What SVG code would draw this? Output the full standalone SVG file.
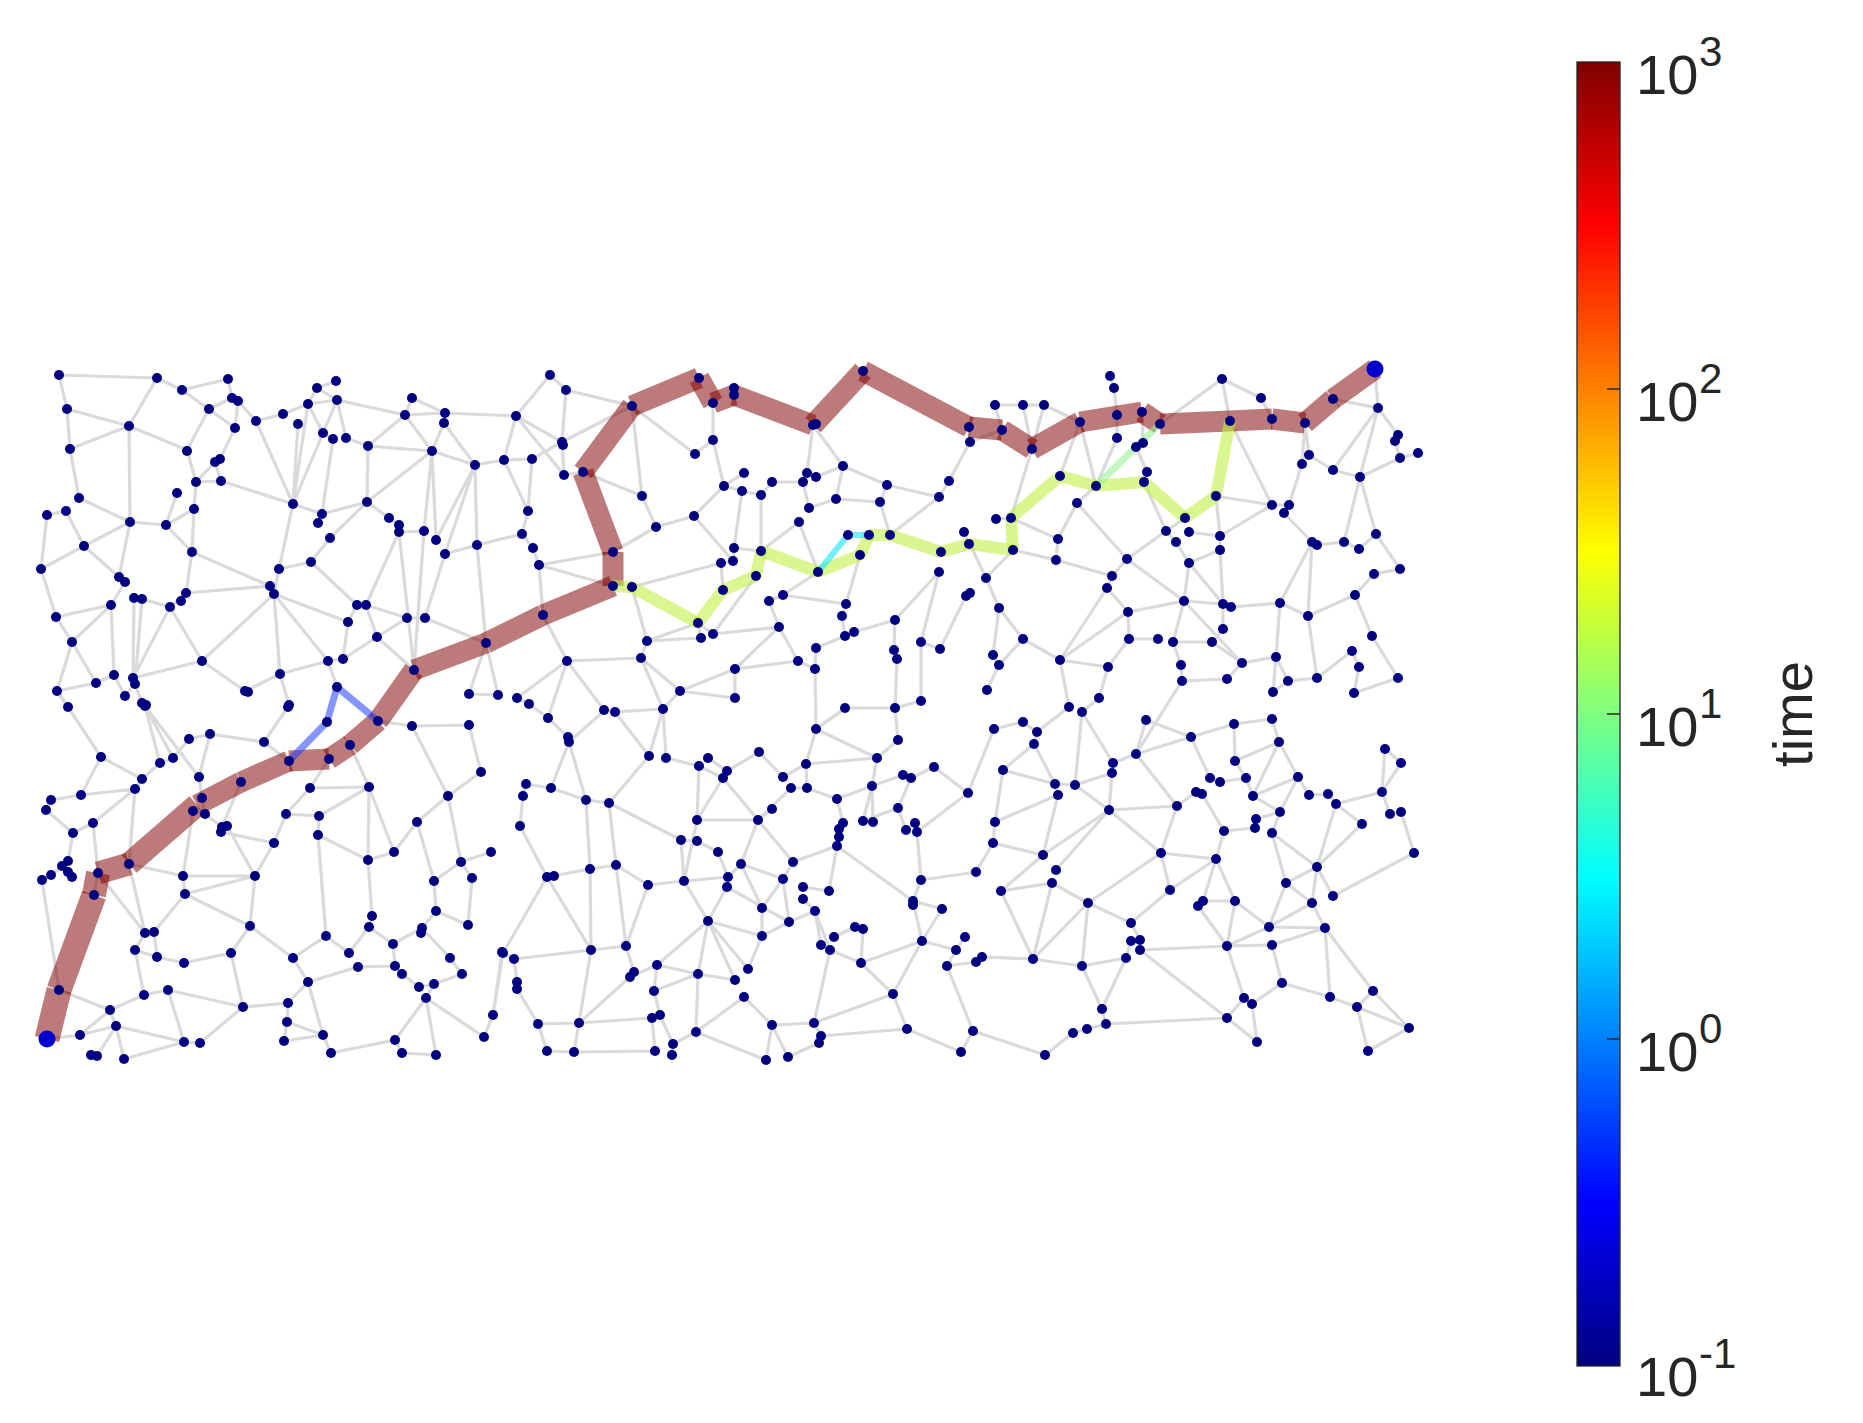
<svg xmlns="http://www.w3.org/2000/svg" width="1863" height="1423" viewBox="0 0 1863 1423">
<style>
.edges{fill:none;stroke:#dadada;stroke-width:3.2}
.hl line{stroke-linecap:butt;fill:none}
.main{stroke:#800000;stroke-opacity:0.52;stroke-width:21}
.yel{stroke:#c0f040;stroke-opacity:0.58;stroke-width:12}
.grn{stroke:#90f090;stroke-opacity:0.55;stroke-width:7}
.cya{stroke:#00e0ff;stroke-opacity:0.55;stroke-width:6}
.blu{stroke:#2040ff;stroke-opacity:0.55;stroke-width:7}
.nodes circle{fill:#000080;r:5px}
.end circle{fill:#0000cd}
text{font-family:"Liberation Sans",Arial,sans-serif;fill:#262626}
.tl{font-size:56px}
.sup{font-size:42px}
</style>
<defs>
<linearGradient id="jet" x1="0" y1="1" x2="0" y2="0">
<stop offset="0" stop-color="#000080"/>
<stop offset="0.125" stop-color="#0000ff"/>
<stop offset="0.375" stop-color="#00ffff"/>
<stop offset="0.625" stop-color="#ffff00"/>
<stop offset="0.875" stop-color="#ff0000"/>
<stop offset="1" stop-color="#800000"/>
</linearGradient>
</defs>
<rect width="1863" height="1423" fill="#ffffff"/>
<g id="connectors">
<path class="edges" d="M59 375L157 378M59 375L67 409M157 378L129 426M157 378L182 390M182 390L228 379M182 390L235 428M228 379L232 398M232 398L209 409M238 401L235 428M238 401L256 421M209 409L187 450M235 428L220 459M256 421L283 414M283 414L308 404M308 404L317 388M317 388L336 381M317 388L337 400M308 404L337 400M308 404L323 433M298 424L293 504M308 404L293 504M337 400L293 504M337 400L346 438M337 400L405 415M333 439L322 514M323 433L333 439M256 421L293 504M346 438L368 446M368 446L367 502M368 446L432 451M405 415L368 446M405 415L412 398M412 398L445 413M405 415L445 413M445 413L516 416M405 415L432 451M444 423L432 451M444 423L475 465M432 451L475 465M475 465L504 460M432 451L367 502M432 451L424 531M432 451L436 540M475 465L436 540M475 465L445 554M475 465L477 545M67 409L129 426M67 409L70 449M129 426L70 449M129 426L187 450M129 426L130 522M70 449L79 498M187 450L196 482M196 482L221 481M196 482L215 462M215 462L221 481M196 482L194 509M177 493L166 525M194 509L166 525M194 509L192 552M221 481L293 504M79 498L130 522M66 511L84 546M47 515L41 569M47 515L66 511M41 569L84 546M84 546L130 522M130 522L166 525M130 522L119 577M84 546L119 577M166 525L192 552M192 552L186 593M192 552L270 586M293 504L322 514M293 504L279 569M322 514L367 502M367 502L330 538M367 502L389 518M330 538L311 562M279 569L311 562M279 569L274 594M311 562L357 605M389 518L399 525M399 532L424 531M399 532L366 605M399 532L414 670M424 531L414 670M445 554L477 545M445 554L425 618M477 545L486 643M477 545L522 534M41 569L56 617M56 617L72 642M56 617L111 605M72 642L111 605M72 642L57 691M72 642L96 683M111 605L114 675M111 605L125 582M119 577L125 582M134 598L133 678M142 599L135 684M142 599L170 607M170 607L133 678M170 607L186 593M170 607L202 661M186 593L270 586M270 586L274 594M274 594L202 661M274 594L280 674M274 594L328 661M274 594L348 622M348 622L357 605M348 622L343 659M366 605L377 637M366 605L407 618M357 605L366 605M377 637L407 618M377 637L343 659M377 637L414 670M407 618L425 618M425 618L486 643M486 643L469 694M486 643L498 695M469 694L498 695M202 661L133 678M202 661L245 691M245 691L280 674M280 674L328 661M328 661L343 659M328 661L337 687M280 674L289 705M114 675L96 683M96 683L57 691M133 678L135 684M135 684L125 696M135 684L142 703M57 691L68 707M68 707L101 757M114 675L125 696
M550 375L566 390M550 375L516 416M566 390L632 406M566 390L562 442M516 416L562 442M516 416L564 475M516 416L504 460M562 442L532 459M562 442L564 475M562 442L632 406M532 459L504 460M532 459L528 511M504 460L528 511M564 475L583 472M583 472L642 496M528 511L522 534M522 534L533 548M533 548L539 565M539 565L613 552M539 565L543 615M539 565L613 586M632 406L642 496M632 406L695 454M642 496L656 527M656 527L694 516M656 527L613 552M695 454L713 440M713 403L713 440M713 440L724 486M694 516L733 561M694 516L724 486M724 486L744 473M724 486L742 491M742 491L734 548M761 495L761 551M761 495L742 491M761 495L772 482M772 482L803 482M807 473L813 425M807 473L816 477M816 477L843 466M843 466L813 425M843 466L836 499M843 466L887 485M836 499L880 502M809 508L803 482M809 508L836 499M799 522L818 572M799 522L761 551M880 502L887 485M880 502L890 535M887 485L939 497M939 497L949 481M949 481L970 442M969 427L970 442M939 497L890 535M964 532L969 544M734 548L733 561M734 548L761 551M721 563L723 590M721 563L632 587M721 563L733 561M698 623L713 634M698 623L701 638M713 634L756 576M713 634L779 627M701 638L647 641M647 641L632 587M647 641L641 658M647 641L698 623M641 658L680 691M641 658L663 709M567 661L543 615M567 661L641 658M567 661L517 698M567 661L604 710M567 661L548 718M735 669L779 627M735 669L735 698M735 669L680 691M735 669L798 661M680 691L663 709M680 691L735 698M798 661L779 627M798 661L815 669M816 648L815 669M816 648L845 636M815 669L816 729M783 595L818 572M783 595L769 601M783 595L846 604M769 601L779 627M846 604L842 616M842 616L845 636M845 636L854 632M854 632L895 620M895 620L939 572M895 620L894 650M894 650L897 659M897 659L895 708M921 642L939 572M921 642L940 649M921 642L921 701M940 649L966 596M966 596L970 594M845 708L895 708M895 708L921 701M860 555L846 604M734 388L734 395M529 704L548 718M517 698L529 704M604 710L615 712M895 708L898 740M845 708L816 729
M1110 376L1114 388M1114 388L1117 415M1222 379L1261 398M1222 379L1160 424M1222 379L1230 421M1261 398L1272 419M995 405L1023 405M1023 405L1044 405M995 405L1002 430M1023 405L1032 449M1044 405L1032 449M1044 405L1080 422M1080 422L1096 486M1080 422L1060 476M1117 438L1117 415M1117 438L1096 486M1142 412L1143 443M1136 447L1143 443M1136 447L1147 472M1147 472L1144 482M1144 482L1166 531M1166 531L1185 518M1230 421L1272 505M1216 496L1220 536M1216 496L1272 505M1166 531L1176 542M1189 532L1220 536M1220 536L1220 550M1220 536L1272 505M1220 550L1189 563M1189 563L1176 542M1189 563L1184 601M1189 563L1223 604M1220 550L1223 604M1127 559L1166 531M1127 559L1184 601M1127 559L1112 576M1077 503L1096 486M1077 503L1127 559M1077 503L1058 539M1058 539L1011 518M1058 539L1056 560M1013 550L1056 560M1013 550L986 578M1032 449L1011 518M1011 518L996 519M1056 560L1112 576M1112 576L1107 588M1107 588L1060 660M1107 588L1128 612M1128 612L1184 601M1128 612L1129 639M1128 612L1060 660M1129 639L1158 639M1129 639L1108 667M1173 642L1212 642M1173 642L1181 665M1184 601L1173 642M1184 601L1223 604M1223 604L1231 607M1231 607L1280 603M1223 604L1223 629M1223 629L1212 642M1184 601L1242 663M1280 603L1308 616M1280 603L1276 657M1308 616L1317 678M1308 616L1355 595M1308 616L1312 542M1312 542L1317 545M1317 545L1344 542M1344 542L1359 549M1359 549L1376 534M1376 534L1400 569M1400 569L1374 574M1374 574L1355 595M1355 595L1372 636M1372 636L1398 678M1352 651L1359 667M1352 651L1317 678M1359 667L1354 693M1398 678L1354 693M1317 678L1288 681M1288 681L1276 657M1288 681L1273 692M1276 657L1273 692M1242 663L1276 657M1242 663L1212 642M1227 679L1182 681M1227 679L1242 663M1181 665L1182 681M1060 660L1108 667M1060 660L1023 639M1060 660L1069 707M1108 667L1099 698M1099 698L1082 712M999 608L986 578M999 608L1023 639M999 608L993 655M993 655L999 665M999 665L987 690M1023 639L999 665M1400 458L1418 453M1400 458L1395 441M1398 435L1378 408M1378 408L1375 369M1378 408L1333 470M1378 408L1360 477M1333 399L1378 408M1360 477L1333 470M1360 477L1400 458M1360 477L1344 542M1360 477L1376 534M1309 455L1305 423M1305 423L1302 464M1309 455L1333 470M1302 464L1289 505M1289 505L1272 505M1284 513L1312 542M1312 542L1280 603M1002 430L970 442M970 544L986 578M1182 681L1136 754
M145 706L160 763M145 706L173 758M145 706L199 777M101 757L142 779M101 757L81 795M142 779L160 763M160 763L173 758M173 758L189 739M189 739L210 734M210 734L264 742M210 734L199 777M199 777L202 798M264 742L288 707M264 742L289 761M135 789L142 779M135 789L81 795M135 789L93 823M135 789L129 864M81 795L51 800M51 800L46 810M46 810L73 833M93 823L73 833M93 823L98 873M73 833L68 861M68 861L62 866M62 866L68 872M68 872L72 877M51 875L42 880M51 875L62 866M42 880L59 990M183 876L255 876M183 876L185 894M183 876L193 811M183 876L129 864M185 894L255 876M185 894L250 926M185 894L154 932M222 827L241 782M227 826L255 876M221 832L274 843M274 843L286 814M274 843L255 876M286 814L319 816M286 814L310 788M310 788L369 787M310 788L329 759M319 816L318 835M318 835L326 936M319 816L369 787M318 835L368 860M369 787L368 860M369 787L394 852M369 787L350 745M412 726L448 796M412 726L469 725M412 726L378 721M469 725L481 772M481 772L448 796M448 796L417 822M448 796L461 862M417 822L394 852M417 822L434 881M368 860L394 852M368 860L372 916M434 881L461 862M434 881L436 911M461 862L491 852M472 878L468 925M472 878L461 862M436 911L422 928M436 911L468 925M255 876L250 926M250 926L231 953M250 926L293 958M326 936L293 958M326 936L349 953M349 953L369 927M372 916L369 927M358 967L395 966M369 927L393 944M393 944L422 928M393 944L395 966M395 966L402 974M402 974L419 987M419 987L434 984M434 984L462 974M462 974L450 958M450 958L422 928M421 933L422 928M426 998L434 984M426 998L395 1040M426 998L436 1055M426 998L484 1037M484 1037L493 1015M436 1055L402 1053M395 1040L402 1053M493 1015L502 952M293 958L308 982M308 982L358 967M308 982L288 1003M308 982L323 1035M288 1003L287 1022M287 1022L284 1041M287 1022L323 1035M284 1041L323 1035M331 1053L395 1040M331 1053L323 1035M243 1007L288 1003M243 1007L231 953M243 1007L168 990M243 1007L200 1043M144 995L168 990M144 995L135 950M144 995L110 1010M157 957L184 963M157 957L135 950M184 963L231 953M145 933L154 932M154 932L157 957M135 950L145 933M168 990L184 1042M110 1010L80 1035M110 1010L116 1026M116 1026L80 1035M116 1026L97 1056M116 1026L124 1059M116 1026L184 1042M124 1059L184 1042M91 1055L97 1056M80 1035L47 1039M59 990L110 1010M129 864L145 933M98 873L145 933M94 895L98 873M202 798L205 814M193 811L205 814M205 814L222 827M222 827L227 826M221 832L227 826M184 1042L200 1043
M548 718L568 737M569 742L604 711M569 742L551 788M569 742L586 800M615 712L663 709M615 712L649 756M663 709L649 756M663 709L666 758M649 756L609 803M666 758L699 766M708 758L727 771M699 766L723 778M699 766L697 820M723 778L697 820M723 778L758 820M727 771L759 752M759 752L783 777M783 777L806 764M806 764L807 788M806 764L816 729M806 764L877 758M791 788L758 820M791 788L807 788M807 788L837 799M816 729L845 709M816 729L877 758M877 758L898 740M898 740L895 708M877 758L872 786M872 786L903 775M872 786L873 822M872 786L863 821M872 786L837 799M837 799L843 823M898 808L863 821M898 808L911 778M898 808L906 830M934 767L911 778M934 767L968 793M843 823L839 829M839 829L839 837M839 837L837 846M915 823L906 830M915 823L917 832M917 832L921 880M917 832L968 793M837 846L793 862M837 846L913 901M837 846L829 891M793 862L783 879M793 862L758 820M803 887L829 891M803 899L815 911M783 879L762 908M783 879L789 922M741 864L783 879M741 864L728 877M741 864L758 820M741 864L762 908M718 852L697 841M718 852L728 877M697 820L758 820M697 820L684 881M772 809L758 820M681 840L697 841M681 840L684 881M684 881L728 877M684 881L648 885M684 881L708 921M727 887L708 921M727 887L789 922M762 908L762 936M762 936L789 922M789 922L815 911M708 921L762 936M708 921L657 965M708 921L698 974M708 921L735 980M708 921L748 969M762 936L748 969M815 911L821 945M815 911L830 950M834 937L855 927M855 927L863 929M863 929L861 963M830 950L861 963M861 963L922 941M861 963L893 994M922 941L913 901M913 901L942 909M922 941L942 909M921 880L913 901M921 880L976 872M922 941L956 950M956 950L965 937M956 950L947 966M947 966L976 962M922 941L893 994M893 994L907 1029M893 994L814 1023M814 1023L772 1025M814 1023L830 950M814 1023L821 1036M821 1036L907 1029M821 1036L819 1043M819 1043L788 1057M772 1025L766 1060M772 1025L744 997M788 1057L772 1025M907 1029L961 1052M961 1052L973 1031M947 966L973 1031M744 997L696 1032M696 1032L698 974M696 1032L766 1060M696 1032L673 1044M698 974L657 965M698 974L735 980M657 965L654 991M654 991L698 974M654 991L660 1015M652 1018L655 1051M660 1015L673 1044M673 1044L672 1055M652 1018L579 1023M579 1023L538 1024M579 1023L574 1052M574 1052L655 1051M547 1051L574 1052M538 1024L547 1051M538 1024L517 989M579 1023L591 950M579 1023L630 977M591 950L626 946M591 950L514 959M591 950L590 869M591 950L547 877M626 946L634 972M626 946L616 865M630 977L657 965M590 869L616 865M590 869L586 800M590 869L547 877M609 803L616 865M609 803L586 800M609 803L681 840M648 885L616 865M648 885L626 946M547 877L520 826M547 877L503 953M547 877L554 876M520 826L523 796M523 796L526 784M526 784L551 788M551 788L586 800M514 959L517 982M517 982L517 989M503 953L514 959M493 1015L503 953
M994 729L1023 722M1023 722L1037 732M1037 732L1069 707M1034 744L1003 770M1034 744L1055 784M1082 712L1075 785M1082 712L1113 763M1146 720L1136 754M1146 720L1191 737M1136 754L1191 737M1136 754L1177 806M1113 763L1136 754M1112 773L1109 810M1112 773L1075 785M1075 785L1109 810M1055 784L1075 785M1055 784L1058 795M1058 795L995 822M1058 795L1043 855M1003 770L1055 784M1003 770L995 822M995 822L993 843M993 843L1043 855M993 843L976 872M1043 855L1109 810M1043 855L1001 891M1056 870L1109 810M1052 883L1001 891M1052 883L1088 903M1052 883L1033 959M1001 891L1033 959M1109 810L1177 806M1109 810L1161 853M1177 806L1161 853M1177 806L1196 792M1196 792L1202 794M1191 737L1234 724M1191 737L1210 778M1234 724L1272 719M1234 724L1235 761M1235 761L1279 742M1235 761L1246 778M1272 719L1279 742M1279 742L1298 777M1279 742L1253 796M1202 794L1224 831M1210 778L1220 782M1220 782L1246 778M1246 778L1253 796M1253 796L1298 777M1253 796L1280 812M1298 777L1280 812M1298 777L1309 795M1309 795L1328 794M1328 794L1336 804M1336 804L1382 792M1336 804L1362 824M1336 804L1317 867M1382 792L1385 749M1385 749L1401 763M1401 763L1382 792M1382 792L1390 814M1390 814L1401 812M1401 812L1414 853M1414 853L1333 896M1362 824L1317 867M1256 819L1255 828M1255 828L1224 831M1280 812L1256 819M1272 833L1280 812M1272 833L1317 867M1272 833L1286 883M1224 831L1216 859M1216 859L1161 853M1216 859L1170 890M1216 859L1203 901M1216 859L1235 901M1161 853L1170 890M1161 853L1088 903M1170 890L1131 923M1203 901L1235 901M1198 906L1227 946M1235 901L1227 946M1235 901L1269 927M1286 883L1317 867M1286 883L1312 903M1286 883L1269 927M1317 867L1312 903M1317 867L1333 896M1312 903L1325 928M1312 903L1269 927M1269 927L1325 928M1269 927L1227 946M1272 945L1325 928M1227 946L1272 945M1272 945L1282 983M1227 946L1244 998M1140 950L1227 946M1140 950L1227 1018M1131 923L1088 903M1131 941L1140 940M1131 923L1140 940M1126 958L1131 941M1126 958L1082 966M1126 958L1102 1009M1088 903L1082 966M1088 903L1033 959M1033 959L1082 966M1033 959L982 957M982 957L976 962M1102 1009L1082 966M1102 1009L1106 1024M1106 1024L1087 1029M1106 1024L1227 1018M1087 1029L1073 1033M1073 1033L1045 1055M1045 1055L973 1031M1227 1018L1244 998M1227 1018L1257 1042M1252 1004L1257 1042M1252 1004L1282 983M1282 983L1330 997M1330 997L1357 1007M1357 1007L1373 991M1357 1007L1368 1051M1357 1007L1409 1028M1368 1051L1409 1028M1373 991L1409 1028M1325 928L1330 997M1325 928L1373 991M1034 744L1037 732M968 793L994 729"/>
</g>
<g id="highlight" class="hl">
<g class="main">
<line x1="47" y1="1039" x2="59" y2="990" stroke-width="25"/>
<line x1="59" y1="990" x2="94" y2="895" stroke-width="25"/>
<line x1="94" y1="895" x2="98" y2="873" stroke-width="24"/>
<line x1="98" y1="873" x2="129" y2="864" stroke-width="23"/>
<line x1="129" y1="864" x2="197" y2="805" stroke-width="23"/>
<line x1="197" y1="805" x2="241" y2="782"/>
<line x1="241" y1="782" x2="289" y2="761"/>
<line x1="289" y1="761" x2="329" y2="759"/>
<line x1="329" y1="759" x2="350" y2="745"/>
<line x1="350" y1="745" x2="378" y2="721"/>
<line x1="378" y1="721" x2="414" y2="670"/>
<line x1="414" y1="670" x2="486" y2="643"/>
<line x1="486" y1="643" x2="543" y2="615"/>
<line x1="543" y1="615" x2="613" y2="586"/>
<line x1="613" y1="586" x2="613" y2="552"/>
<line x1="613" y1="552" x2="583" y2="472"/>
<line x1="583" y1="472" x2="632" y2="406"/>
<line x1="632" y1="406" x2="699" y2="378"/>
<line x1="699" y1="378" x2="713" y2="403"/>
<line x1="713" y1="403" x2="734" y2="395"/>
<line x1="734" y1="395" x2="813" y2="425"/>
<line x1="813" y1="425" x2="863" y2="371"/>
<line x1="863" y1="371" x2="969" y2="427"/>
<line x1="969" y1="427" x2="1002" y2="430"/>
<line x1="1002" y1="430" x2="1032" y2="449"/>
<line x1="1032" y1="449" x2="1080" y2="422"/>
<line x1="1080" y1="422" x2="1142" y2="412"/>
<line x1="1142" y1="412" x2="1160" y2="424"/>
<line x1="1160" y1="424" x2="1230" y2="421"/>
<line x1="1230" y1="421" x2="1272" y2="419"/>
<line x1="1272" y1="419" x2="1305" y2="423"/>
<line x1="1305" y1="423" x2="1333" y2="399"/>
<line x1="1333" y1="399" x2="1375" y2="369"/>
</g>
<g class="yel">
<line x1="613" y1="586" x2="632" y2="587"/>
<line x1="632" y1="587" x2="698" y2="623"/>
<line x1="698" y1="623" x2="723" y2="590"/>
<line x1="723" y1="590" x2="756" y2="576"/>
<line x1="756" y1="576" x2="761" y2="551"/>
<line x1="761" y1="551" x2="818" y2="572"/>
<line x1="818" y1="572" x2="860" y2="555"/>
<line x1="860" y1="555" x2="869" y2="535"/>
<line x1="869" y1="535" x2="890" y2="535"/>
<line x1="890" y1="535" x2="941" y2="552"/>
<line x1="941" y1="552" x2="969" y2="544"/>
<line x1="969" y1="544" x2="1013" y2="550"/>
<line x1="1013" y1="550" x2="1011" y2="518"/>
<line x1="1011" y1="518" x2="1060" y2="476"/>
<line x1="1060" y1="476" x2="1096" y2="486"/>
<line x1="1096" y1="486" x2="1144" y2="482"/>
<line x1="1144" y1="482" x2="1185" y2="518"/>
<line x1="1185" y1="518" x2="1216" y2="496"/>
<line x1="1216" y1="496" x2="1230" y2="421"/>
</g>
<g class="grn">
<line x1="1096" y1="486" x2="1136" y2="447"/>
<line x1="1136" y1="447" x2="1160" y2="424"/>
</g>
<g class="cya">
<line x1="818" y1="572" x2="848" y2="535"/>
<line x1="848" y1="535" x2="869" y2="535"/>
</g>
<g class="blu">
<line x1="289" y1="761" x2="327" y2="722"/>
<line x1="327" y1="722" x2="337" y2="687"/>
<line x1="337" y1="687" x2="378" y2="721"/>
</g>
</g>
<g id="nodes" class="nodes">
<g id="n1"><circle cx="59" cy="375" r="5"/></g><g id="n2"><circle cx="157" cy="378" r="5"/></g><g id="n3"><circle cx="182" cy="390" r="5"/></g><g id="n4"><circle cx="228" cy="379" r="5"/></g><g id="n5"><circle cx="232" cy="398" r="5"/></g><g id="n6"><circle cx="238" cy="401" r="5"/></g><g id="n7"><circle cx="209" cy="409" r="5"/></g><g id="n8"><circle cx="235" cy="428" r="5"/></g><g id="n9"><circle cx="256" cy="421" r="5"/></g><g id="n10"><circle cx="283" cy="414" r="5"/></g>
<g id="n11"><circle cx="298" cy="424" r="5"/></g><g id="n12"><circle cx="308" cy="404" r="5"/></g><g id="n13"><circle cx="317" cy="388" r="5"/></g><g id="n14"><circle cx="336" cy="381" r="5"/></g><g id="n15"><circle cx="337" cy="400" r="5"/></g><g id="n16"><circle cx="323" cy="433" r="5"/></g><g id="n17"><circle cx="333" cy="439" r="5"/></g><g id="n18"><circle cx="346" cy="438" r="5"/></g><g id="n19"><circle cx="368" cy="446" r="5"/></g><g id="n20"><circle cx="412" cy="398" r="5"/></g>
<g id="n21"><circle cx="405" cy="415" r="5"/></g><g id="n22"><circle cx="445" cy="413" r="5"/></g><g id="n23"><circle cx="444" cy="423" r="5"/></g><g id="n24"><circle cx="432" cy="451" r="5"/></g><g id="n25"><circle cx="475" cy="465" r="5"/></g><g id="n26"><circle cx="504" cy="460" r="5"/></g><g id="n27"><circle cx="67" cy="409" r="5"/></g><g id="n28"><circle cx="129" cy="426" r="5"/></g><g id="n29"><circle cx="70" cy="449" r="5"/></g><g id="n30"><circle cx="187" cy="451" r="5"/></g>
<g id="n31"><circle cx="215" cy="462" r="5"/></g><g id="n32"><circle cx="220" cy="459" r="5"/></g><g id="n33"><circle cx="196" cy="482" r="5"/></g><g id="n34"><circle cx="221" cy="481" r="5"/></g><g id="n35"><circle cx="79" cy="498" r="5"/></g><g id="n36"><circle cx="66" cy="511" r="5"/></g><g id="n37"><circle cx="47" cy="515" r="5"/></g><g id="n38"><circle cx="177" cy="493" r="5"/></g><g id="n39"><circle cx="194" cy="509" r="5"/></g><g id="n40"><circle cx="293" cy="504" r="5"/></g>
<g id="n41"><circle cx="322" cy="514" r="5"/></g><g id="n42"><circle cx="318" cy="523" r="5"/></g><g id="n43"><circle cx="367" cy="502" r="5"/></g><g id="n44"><circle cx="389" cy="518" r="5"/></g><g id="n45"><circle cx="399" cy="525" r="5"/></g><g id="n46"><circle cx="399" cy="532" r="5"/></g><g id="n47"><circle cx="424" cy="531" r="5"/></g><g id="n48"><circle cx="436" cy="540" r="5"/></g><g id="n49"><circle cx="445" cy="554" r="5"/></g><g id="n50"><circle cx="477" cy="545" r="5"/></g>
<g id="n51"><circle cx="330" cy="538" r="5"/></g><g id="n52"><circle cx="130" cy="522" r="5"/></g><g id="n53"><circle cx="166" cy="525" r="5"/></g><g id="n54"><circle cx="84" cy="546" r="5"/></g><g id="n55"><circle cx="41" cy="569" r="5"/></g><g id="n56"><circle cx="192" cy="552" r="5"/></g><g id="n57"><circle cx="279" cy="569" r="5"/></g><g id="n58"><circle cx="311" cy="562" r="5"/></g><g id="n59"><circle cx="119" cy="577" r="5"/></g><g id="n60"><circle cx="125" cy="582" r="5"/></g>
<g id="n61"><circle cx="270" cy="586" r="5"/></g><g id="n62"><circle cx="274" cy="594" r="5"/></g><g id="n63"><circle cx="186" cy="593" r="5"/></g><g id="n64"><circle cx="181" cy="601" r="5"/></g><g id="n65"><circle cx="134" cy="598" r="5"/></g><g id="n66"><circle cx="142" cy="599" r="5"/></g><g id="n67"><circle cx="111" cy="605" r="5"/></g><g id="n68"><circle cx="170" cy="607" r="5"/></g><g id="n69"><circle cx="56" cy="617" r="5"/></g><g id="n70"><circle cx="357" cy="605" r="5"/></g>
<g id="n71"><circle cx="366" cy="605" r="5"/></g><g id="n72"><circle cx="348" cy="622" r="5"/></g><g id="n73"><circle cx="377" cy="637" r="5"/></g><g id="n74"><circle cx="407" cy="618" r="5"/></g><g id="n75"><circle cx="425" cy="618" r="5"/></g><g id="n76"><circle cx="72" cy="642" r="5"/></g><g id="n77"><circle cx="202" cy="661" r="5"/></g><g id="n78"><circle cx="328" cy="661" r="5"/></g><g id="n79"><circle cx="343" cy="659" r="5"/></g><g id="n80"><circle cx="280" cy="674" r="5"/></g>
<g id="n81"><circle cx="414" cy="670" r="5"/></g><g id="n82"><circle cx="486" cy="643" r="5"/></g><g id="n83"><circle cx="469" cy="694" r="5"/></g><g id="n84"><circle cx="498" cy="695" r="5"/></g><g id="n85"><circle cx="114" cy="675" r="5"/></g><g id="n86"><circle cx="133" cy="678" r="5"/></g><g id="n87"><circle cx="135" cy="684" r="5"/></g><g id="n88"><circle cx="96" cy="683" r="5"/></g><g id="n89"><circle cx="57" cy="691" r="5"/></g><g id="n90"><circle cx="68" cy="707" r="5"/></g>
<g id="n91"><circle cx="125" cy="696" r="5"/></g><g id="n92"><circle cx="142" cy="703" r="5"/></g><g id="n93"><circle cx="146" cy="705" r="5"/></g><g id="n94"><circle cx="245" cy="691" r="5"/></g><g id="n95"><circle cx="248" cy="692" r="5"/></g><g id="n96"><circle cx="289" cy="705" r="5"/></g><g id="n97"><circle cx="337" cy="687" r="5"/></g><g id="n98"><circle cx="550" cy="375" r="5"/></g><g id="n99"><circle cx="566" cy="390" r="5"/></g><g id="n100"><circle cx="516" cy="416" r="5"/></g>
<g id="n101"><circle cx="562" cy="442" r="5"/></g><g id="n102"><circle cx="563" cy="445" r="5"/></g><g id="n103"><circle cx="532" cy="459" r="5"/></g><g id="n104"><circle cx="564" cy="475" r="5"/></g><g id="n105"><circle cx="528" cy="511" r="5"/></g><g id="n106"><circle cx="522" cy="534" r="5"/></g><g id="n107"><circle cx="533" cy="548" r="5"/></g><g id="n108"><circle cx="539" cy="565" r="5"/></g><g id="n109"><circle cx="543" cy="615" r="5"/></g><g id="n110"><circle cx="613" cy="552" r="5"/></g>
<g id="n111"><circle cx="613" cy="586" r="5"/></g><g id="n112"><circle cx="632" cy="587" r="5"/></g><g id="n113"><circle cx="583" cy="472" r="5"/></g><g id="n114"><circle cx="632" cy="406" r="5"/></g><g id="n115"><circle cx="699" cy="378" r="5"/></g><g id="n116"><circle cx="713" cy="403" r="5"/></g><g id="n117"><circle cx="734" cy="388" r="5"/></g><g id="n118"><circle cx="734" cy="395" r="5"/></g><g id="n119"><circle cx="813" cy="425" r="5"/></g><g id="n120"><circle cx="816" cy="424" r="5"/></g>
<g id="n121"><circle cx="863" cy="371" r="5"/></g><g id="n122"><circle cx="969" cy="427" r="5"/></g><g id="n123"><circle cx="970" cy="442" r="5"/></g><g id="n124"><circle cx="713" cy="440" r="5"/></g><g id="n125"><circle cx="695" cy="454" r="5"/></g><g id="n126"><circle cx="642" cy="496" r="5"/></g><g id="n127"><circle cx="656" cy="527" r="5"/></g><g id="n128"><circle cx="694" cy="516" r="5"/></g><g id="n129"><circle cx="724" cy="486" r="5"/></g><g id="n130"><circle cx="744" cy="473" r="5"/></g>
<g id="n131"><circle cx="742" cy="491" r="5"/></g><g id="n132"><circle cx="761" cy="495" r="5"/></g><g id="n133"><circle cx="772" cy="482" r="5"/></g><g id="n134"><circle cx="807" cy="473" r="5"/></g><g id="n135"><circle cx="803" cy="482" r="5"/></g><g id="n136"><circle cx="816" cy="477" r="5"/></g><g id="n137"><circle cx="843" cy="466" r="5"/></g><g id="n138"><circle cx="836" cy="499" r="5"/></g><g id="n139"><circle cx="809" cy="508" r="5"/></g><g id="n140"><circle cx="799" cy="522" r="5"/></g>
<g id="n141"><circle cx="887" cy="485" r="5"/></g><g id="n142"><circle cx="880" cy="502" r="5"/></g><g id="n143"><circle cx="939" cy="497" r="5"/></g><g id="n144"><circle cx="949" cy="481" r="5"/></g><g id="n145"><circle cx="964" cy="532" r="5"/></g><g id="n146"><circle cx="969" cy="544" r="5"/></g><g id="n147"><circle cx="848" cy="535" r="5"/></g><g id="n148"><circle cx="869" cy="535" r="5"/></g><g id="n149"><circle cx="890" cy="535" r="5"/></g><g id="n150"><circle cx="941" cy="552" r="5"/></g>
<g id="n151"><circle cx="818" cy="572" r="5"/></g><g id="n152"><circle cx="860" cy="555" r="5"/></g><g id="n153"><circle cx="761" cy="551" r="5"/></g><g id="n154"><circle cx="734" cy="548" r="5"/></g><g id="n155"><circle cx="733" cy="561" r="5"/></g><g id="n156"><circle cx="721" cy="563" r="5"/></g><g id="n157"><circle cx="756" cy="576" r="5"/></g><g id="n158"><circle cx="723" cy="590" r="5"/></g><g id="n159"><circle cx="698" cy="623" r="5"/></g><g id="n160"><circle cx="713" cy="634" r="5"/></g>
<g id="n161"><circle cx="701" cy="638" r="5"/></g><g id="n162"><circle cx="783" cy="595" r="5"/></g><g id="n163"><circle cx="769" cy="601" r="5"/></g><g id="n164"><circle cx="779" cy="627" r="5"/></g><g id="n165"><circle cx="846" cy="604" r="5"/></g><g id="n166"><circle cx="842" cy="616" r="5"/></g><g id="n167"><circle cx="845" cy="636" r="5"/></g><g id="n168"><circle cx="854" cy="632" r="5"/></g><g id="n169"><circle cx="895" cy="620" r="5"/></g><g id="n170"><circle cx="939" cy="572" r="5"/></g>
<g id="n171"><circle cx="966" cy="596" r="5"/></g><g id="n172"><circle cx="970" cy="593" r="5"/></g><g id="n173"><circle cx="921" cy="642" r="5"/></g><g id="n174"><circle cx="940" cy="649" r="5"/></g><g id="n175"><circle cx="894" cy="650" r="5"/></g><g id="n176"><circle cx="897" cy="659" r="5"/></g><g id="n177"><circle cx="921" cy="701" r="5"/></g><g id="n178"><circle cx="895" cy="708" r="5"/></g><g id="n179"><circle cx="845" cy="708" r="5"/></g><g id="n180"><circle cx="816" cy="648" r="5"/></g>
<g id="n181"><circle cx="815" cy="669" r="5"/></g><g id="n182"><circle cx="798" cy="661" r="5"/></g><g id="n183"><circle cx="735" cy="669" r="5"/></g><g id="n184"><circle cx="735" cy="698" r="5"/></g><g id="n185"><circle cx="680" cy="691" r="5"/></g><g id="n186"><circle cx="663" cy="709" r="5"/></g><g id="n187"><circle cx="647" cy="641" r="5"/></g><g id="n188"><circle cx="641" cy="658" r="5"/></g><g id="n189"><circle cx="567" cy="661" r="5"/></g><g id="n190"><circle cx="517" cy="698" r="5"/></g>
<g id="n191"><circle cx="529" cy="704" r="5"/></g><g id="n192"><circle cx="604" cy="710" r="5"/></g><g id="n193"><circle cx="615" cy="712" r="5"/></g><g id="n194"><circle cx="1110" cy="376" r="5"/></g><g id="n195"><circle cx="1114" cy="388" r="5"/></g><g id="n196"><circle cx="1222" cy="379" r="5"/></g><g id="n197"><circle cx="1261" cy="398" r="5"/></g><g id="n198"><circle cx="995" cy="405" r="5"/></g><g id="n199"><circle cx="1023" cy="405" r="5"/></g><g id="n200"><circle cx="1044" cy="405" r="5"/></g>
<g id="n201"><circle cx="1002" cy="430" r="5"/></g><g id="n202"><circle cx="1032" cy="449" r="5"/></g><g id="n203"><circle cx="1080" cy="422" r="5"/></g><g id="n204"><circle cx="1117" cy="415" r="5"/></g><g id="n205"><circle cx="1142" cy="412" r="5"/></g><g id="n206"><circle cx="1160" cy="424" r="5"/></g><g id="n207"><circle cx="1117" cy="438" r="5"/></g><g id="n208"><circle cx="1136" cy="447" r="5"/></g><g id="n209"><circle cx="1143" cy="443" r="5"/></g><g id="n210"><circle cx="1147" cy="472" r="5"/></g>
<g id="n211"><circle cx="1144" cy="482" r="5"/></g><g id="n212"><circle cx="1230" cy="421" r="5"/></g><g id="n213"><circle cx="1272" cy="419" r="5"/></g><g id="n214"><circle cx="1305" cy="423" r="5"/></g><g id="n215"><circle cx="1333" cy="399" r="5"/></g><g id="n216"><circle cx="1378" cy="408" r="5"/></g><g id="n217"><circle cx="1398" cy="435" r="5"/></g><g id="n218"><circle cx="1395" cy="441" r="5"/></g><g id="n219"><circle cx="1418" cy="453" r="5"/></g><g id="n220"><circle cx="1400" cy="458" r="5"/></g>
<g id="n221"><circle cx="1309" cy="455" r="5"/></g><g id="n222"><circle cx="1302" cy="464" r="5"/></g><g id="n223"><circle cx="1333" cy="470" r="5"/></g><g id="n224"><circle cx="1360" cy="477" r="5"/></g><g id="n225"><circle cx="1060" cy="476" r="5"/></g><g id="n226"><circle cx="1096" cy="486" r="5"/></g><g id="n227"><circle cx="1077" cy="503" r="5"/></g><g id="n228"><circle cx="1011" cy="518" r="5"/></g><g id="n229"><circle cx="996" cy="519" r="5"/></g><g id="n230"><circle cx="1216" cy="496" r="5"/></g>
<g id="n231"><circle cx="1185" cy="518" r="5"/></g><g id="n232"><circle cx="1272" cy="505" r="5"/></g><g id="n233"><circle cx="1289" cy="505" r="5"/></g><g id="n234"><circle cx="1284" cy="513" r="5"/></g><g id="n235"><circle cx="1166" cy="531" r="5"/></g><g id="n236"><circle cx="1189" cy="532" r="5"/></g><g id="n237"><circle cx="1176" cy="542" r="5"/></g><g id="n238"><circle cx="1220" cy="536" r="5"/></g><g id="n239"><circle cx="1220" cy="550" r="5"/></g><g id="n240"><circle cx="1058" cy="539" r="5"/></g>
<g id="n241"><circle cx="1013" cy="550" r="5"/></g><g id="n242"><circle cx="1056" cy="560" r="5"/></g><g id="n243"><circle cx="1127" cy="559" r="5"/></g><g id="n244"><circle cx="1189" cy="563" r="5"/></g><g id="n245"><circle cx="1376" cy="534" r="5"/></g><g id="n246"><circle cx="1312" cy="542" r="5"/></g><g id="n247"><circle cx="1317" cy="545" r="5"/></g><g id="n248"><circle cx="1344" cy="542" r="5"/></g><g id="n249"><circle cx="1359" cy="549" r="5"/></g><g id="n250"><circle cx="1400" cy="569" r="5"/></g>
<g id="n251"><circle cx="1374" cy="574" r="5"/></g><g id="n252"><circle cx="1355" cy="595" r="5"/></g><g id="n253"><circle cx="986" cy="578" r="5"/></g><g id="n254"><circle cx="1112" cy="576" r="5"/></g><g id="n255"><circle cx="1107" cy="588" r="5"/></g><g id="n256"><circle cx="999" cy="608" r="5"/></g><g id="n257"><circle cx="1184" cy="601" r="5"/></g><g id="n258"><circle cx="1223" cy="604" r="5"/></g><g id="n259"><circle cx="1231" cy="607" r="5"/></g><g id="n260"><circle cx="1280" cy="603" r="5"/></g>
<g id="n261"><circle cx="1308" cy="616" r="5"/></g><g id="n262"><circle cx="1128" cy="612" r="5"/></g><g id="n263"><circle cx="1223" cy="629" r="5"/></g><g id="n264"><circle cx="1023" cy="639" r="5"/></g><g id="n265"><circle cx="1129" cy="639" r="5"/></g><g id="n266"><circle cx="1158" cy="639" r="5"/></g><g id="n267"><circle cx="1173" cy="642" r="5"/></g><g id="n268"><circle cx="1212" cy="642" r="5"/></g><g id="n269"><circle cx="1372" cy="636" r="5"/></g><g id="n270"><circle cx="1352" cy="651" r="5"/></g>
<g id="n271"><circle cx="1359" cy="667" r="5"/></g><g id="n272"><circle cx="1276" cy="657" r="5"/></g><g id="n273"><circle cx="1242" cy="663" r="5"/></g><g id="n274"><circle cx="993" cy="655" r="5"/></g><g id="n275"><circle cx="999" cy="665" r="5"/></g><g id="n276"><circle cx="1060" cy="660" r="5"/></g><g id="n277"><circle cx="1108" cy="667" r="5"/></g><g id="n278"><circle cx="1181" cy="665" r="5"/></g><g id="n279"><circle cx="1317" cy="678" r="5"/></g><g id="n280"><circle cx="1288" cy="681" r="5"/></g>
<g id="n281"><circle cx="1227" cy="679" r="5"/></g><g id="n282"><circle cx="1182" cy="681" r="5"/></g><g id="n283"><circle cx="1398" cy="678" r="5"/></g><g id="n284"><circle cx="1273" cy="692" r="5"/></g><g id="n285"><circle cx="1354" cy="693" r="5"/></g><g id="n286"><circle cx="987" cy="690" r="5"/></g><g id="n287"><circle cx="1099" cy="698" r="5"/></g><g id="n288"><circle cx="1069" cy="707" r="5"/></g><g id="n289"><circle cx="1082" cy="712" r="5"/></g><g id="n290"><circle cx="145" cy="706" r="5"/></g>
<g id="n291"><circle cx="288" cy="707" r="5"/></g><g id="n292"><circle cx="101" cy="757" r="5"/></g><g id="n293"><circle cx="210" cy="734" r="5"/></g><g id="n294"><circle cx="189" cy="739" r="5"/></g><g id="n295"><circle cx="264" cy="742" r="5"/></g><g id="n296"><circle cx="160" cy="763" r="5"/></g><g id="n297"><circle cx="173" cy="758" r="5"/></g><g id="n298"><circle cx="142" cy="779" r="5"/></g><g id="n299"><circle cx="199" cy="777" r="5"/></g><g id="n300"><circle cx="135" cy="789" r="5"/></g>
<g id="n301"><circle cx="51" cy="800" r="5"/></g><g id="n302"><circle cx="81" cy="795" r="5"/></g><g id="n303"><circle cx="46" cy="810" r="5"/></g><g id="n304"><circle cx="93" cy="823" r="5"/></g><g id="n305"><circle cx="73" cy="833" r="5"/></g><g id="n306"><circle cx="241" cy="782" r="5"/></g><g id="n307"><circle cx="289" cy="761" r="5"/></g><g id="n308"><circle cx="329" cy="759" r="5"/></g><g id="n309"><circle cx="350" cy="745" r="5"/></g><g id="n310"><circle cx="378" cy="721" r="5"/></g>
<g id="n311"><circle cx="327" cy="722" r="5"/></g><g id="n312"><circle cx="412" cy="726" r="5"/></g><g id="n313"><circle cx="469" cy="725" r="5"/></g><g id="n314"><circle cx="310" cy="788" r="5"/></g><g id="n315"><circle cx="369" cy="787" r="5"/></g><g id="n316"><circle cx="481" cy="772" r="5"/></g><g id="n317"><circle cx="448" cy="796" r="5"/></g><g id="n318"><circle cx="417" cy="822" r="5"/></g><g id="n319"><circle cx="202" cy="798" r="5"/></g><g id="n320"><circle cx="193" cy="811" r="5"/></g>
<g id="n321"><circle cx="205" cy="814" r="5"/></g><g id="n322"><circle cx="222" cy="827" r="5"/></g><g id="n323"><circle cx="227" cy="826" r="5"/></g><g id="n324"><circle cx="221" cy="832" r="5"/></g><g id="n325"><circle cx="286" cy="814" r="5"/></g><g id="n326"><circle cx="319" cy="816" r="5"/></g><g id="n327"><circle cx="318" cy="835" r="5"/></g><g id="n328"><circle cx="274" cy="843" r="5"/></g><g id="n329"><circle cx="394" cy="852" r="5"/></g><g id="n330"><circle cx="368" cy="860" r="5"/></g>
<g id="n331"><circle cx="461" cy="862" r="5"/></g><g id="n332"><circle cx="491" cy="852" r="5"/></g><g id="n333"><circle cx="434" cy="881" r="5"/></g><g id="n334"><circle cx="472" cy="878" r="5"/></g><g id="n335"><circle cx="68" cy="861" r="5"/></g><g id="n336"><circle cx="62" cy="866" r="5"/></g><g id="n337"><circle cx="68" cy="872" r="5"/></g><g id="n338"><circle cx="72" cy="877" r="5"/></g><g id="n339"><circle cx="51" cy="875" r="5"/></g><g id="n340"><circle cx="42" cy="880" r="5"/></g>
<g id="n341"><circle cx="98" cy="873" r="5"/></g><g id="n342"><circle cx="129" cy="864" r="5"/></g><g id="n343"><circle cx="94" cy="895" r="5"/></g><g id="n344"><circle cx="183" cy="876" r="5"/></g><g id="n345"><circle cx="255" cy="876" r="5"/></g><g id="n346"><circle cx="185" cy="894" r="5"/></g><g id="n347"><circle cx="436" cy="911" r="5"/></g><g id="n348"><circle cx="372" cy="916" r="5"/></g><g id="n349"><circle cx="369" cy="927" r="5"/></g><g id="n350"><circle cx="250" cy="926" r="5"/></g>
<g id="n351"><circle cx="326" cy="936" r="5"/></g><g id="n352"><circle cx="422" cy="928" r="5"/></g><g id="n353"><circle cx="421" cy="933" r="5"/></g><g id="n354"><circle cx="468" cy="925" r="5"/></g><g id="n355"><circle cx="393" cy="944" r="5"/></g><g id="n356"><circle cx="349" cy="953" r="5"/></g><g id="n357"><circle cx="358" cy="967" r="5"/></g><g id="n358"><circle cx="145" cy="933" r="5"/></g><g id="n359"><circle cx="154" cy="932" r="5"/></g><g id="n360"><circle cx="135" cy="950" r="5"/></g>
<g id="n361"><circle cx="157" cy="957" r="5"/></g><g id="n362"><circle cx="184" cy="963" r="5"/></g><g id="n363"><circle cx="231" cy="953" r="5"/></g><g id="n364"><circle cx="293" cy="958" r="5"/></g><g id="n365"><circle cx="450" cy="958" r="5"/></g><g id="n366"><circle cx="502" cy="952" r="5"/></g><g id="n367"><circle cx="395" cy="966" r="5"/></g><g id="n368"><circle cx="402" cy="974" r="5"/></g><g id="n369"><circle cx="419" cy="987" r="5"/></g><g id="n370"><circle cx="434" cy="984" r="5"/></g>
<g id="n371"><circle cx="462" cy="974" r="5"/></g><g id="n372"><circle cx="426" cy="998" r="5"/></g><g id="n373"><circle cx="308" cy="982" r="5"/></g><g id="n374"><circle cx="59" cy="990" r="5"/></g><g id="n375"><circle cx="144" cy="995" r="5"/></g><g id="n376"><circle cx="168" cy="990" r="5"/></g><g id="n377"><circle cx="110" cy="1010" r="5"/></g><g id="n378"><circle cx="243" cy="1007" r="5"/></g><g id="n379"><circle cx="288" cy="1003" r="5"/></g><g id="n380"><circle cx="287" cy="1022" r="5"/></g>
<g id="n381"><circle cx="284" cy="1041" r="5"/></g><g id="n382"><circle cx="323" cy="1035" r="5"/></g><g id="n383"><circle cx="116" cy="1026" r="5"/></g><g id="n384"><circle cx="80" cy="1035" r="5"/></g><g id="n385"><circle cx="184" cy="1042" r="5"/></g><g id="n386"><circle cx="200" cy="1043" r="5"/></g><g id="n387"><circle cx="91" cy="1055" r="5"/></g><g id="n388"><circle cx="97" cy="1056" r="5"/></g><g id="n389"><circle cx="124" cy="1059" r="5"/></g><g id="n390"><circle cx="331" cy="1053" r="5"/></g>
<g id="n391"><circle cx="395" cy="1040" r="5"/></g><g id="n392"><circle cx="402" cy="1053" r="5"/></g><g id="n393"><circle cx="436" cy="1055" r="5"/></g><g id="n394"><circle cx="484" cy="1037" r="5"/></g><g id="n395"><circle cx="493" cy="1015" r="5"/></g><g id="n396"><circle cx="548" cy="718" r="5"/></g><g id="n397"><circle cx="568" cy="737" r="5"/></g><g id="n398"><circle cx="569" cy="742" r="5"/></g><g id="n399"><circle cx="649" cy="756" r="5"/></g><g id="n400"><circle cx="666" cy="758" r="5"/></g>
<g id="n401"><circle cx="708" cy="758" r="5"/></g><g id="n402"><circle cx="699" cy="766" r="5"/></g><g id="n403"><circle cx="727" cy="771" r="5"/></g><g id="n404"><circle cx="723" cy="778" r="5"/></g><g id="n405"><circle cx="759" cy="752" r="5"/></g><g id="n406"><circle cx="783" cy="777" r="5"/></g><g id="n407"><circle cx="791" cy="788" r="5"/></g><g id="n408"><circle cx="807" cy="788" r="5"/></g><g id="n409"><circle cx="806" cy="764" r="5"/></g><g id="n410"><circle cx="816" cy="729" r="5"/></g>
<g id="n411"><circle cx="898" cy="740" r="5"/></g><g id="n412"><circle cx="877" cy="758" r="5"/></g><g id="n413"><circle cx="934" cy="767" r="5"/></g><g id="n414"><circle cx="903" cy="775" r="5"/></g><g id="n415"><circle cx="911" cy="778" r="5"/></g><g id="n416"><circle cx="872" cy="786" r="5"/></g><g id="n417"><circle cx="837" cy="799" r="5"/></g><g id="n418"><circle cx="898" cy="808" r="5"/></g><g id="n419"><circle cx="863" cy="821" r="5"/></g><g id="n420"><circle cx="873" cy="822" r="5"/></g>
<g id="n421"><circle cx="843" cy="823" r="5"/></g><g id="n422"><circle cx="839" cy="829" r="5"/></g><g id="n423"><circle cx="839" cy="837" r="5"/></g><g id="n424"><circle cx="837" cy="846" r="5"/></g><g id="n425"><circle cx="915" cy="823" r="5"/></g><g id="n426"><circle cx="906" cy="830" r="5"/></g><g id="n427"><circle cx="917" cy="832" r="5"/></g><g id="n428"><circle cx="968" cy="793" r="5"/></g><g id="n429"><circle cx="526" cy="784" r="5"/></g><g id="n430"><circle cx="523" cy="796" r="5"/></g>
<g id="n431"><circle cx="551" cy="788" r="5"/></g><g id="n432"><circle cx="586" cy="800" r="5"/></g><g id="n433"><circle cx="609" cy="803" r="5"/></g><g id="n434"><circle cx="520" cy="826" r="5"/></g><g id="n435"><circle cx="697" cy="820" r="5"/></g><g id="n436"><circle cx="758" cy="820" r="5"/></g><g id="n437"><circle cx="772" cy="809" r="5"/></g><g id="n438"><circle cx="681" cy="840" r="5"/></g><g id="n439"><circle cx="697" cy="841" r="5"/></g><g id="n440"><circle cx="718" cy="852" r="5"/></g>
<g id="n441"><circle cx="741" cy="864" r="5"/></g><g id="n442"><circle cx="793" cy="862" r="5"/></g><g id="n443"><circle cx="783" cy="879" r="5"/></g><g id="n444"><circle cx="803" cy="887" r="5"/></g><g id="n445"><circle cx="803" cy="899" r="5"/></g><g id="n446"><circle cx="829" cy="891" r="5"/></g><g id="n447"><circle cx="815" cy="911" r="5"/></g><g id="n448"><circle cx="762" cy="908" r="5"/></g><g id="n449"><circle cx="789" cy="922" r="5"/></g><g id="n450"><circle cx="762" cy="936" r="5"/></g>
<g id="n451"><circle cx="821" cy="945" r="5"/></g><g id="n452"><circle cx="830" cy="950" r="5"/></g><g id="n453"><circle cx="834" cy="937" r="5"/></g><g id="n454"><circle cx="855" cy="927" r="5"/></g><g id="n455"><circle cx="863" cy="929" r="5"/></g><g id="n456"><circle cx="861" cy="963" r="5"/></g><g id="n457"><circle cx="922" cy="941" r="5"/></g><g id="n458"><circle cx="913" cy="901" r="5"/></g><g id="n459"><circle cx="913" cy="905" r="5"/></g><g id="n460"><circle cx="942" cy="909" r="5"/></g>
<g id="n461"><circle cx="921" cy="880" r="5"/></g><g id="n462"><circle cx="976" cy="872" r="5"/></g><g id="n463"><circle cx="965" cy="937" r="5"/></g><g id="n464"><circle cx="956" cy="950" r="5"/></g><g id="n465"><circle cx="947" cy="966" r="5"/></g><g id="n466"><circle cx="976" cy="962" r="5"/></g><g id="n467"><circle cx="728" cy="877" r="5"/></g><g id="n468"><circle cx="727" cy="887" r="5"/></g><g id="n469"><circle cx="684" cy="881" r="5"/></g><g id="n470"><circle cx="648" cy="885" r="5"/></g>
<g id="n471"><circle cx="708" cy="921" r="5"/></g><g id="n472"><circle cx="616" cy="865" r="5"/></g><g id="n473"><circle cx="590" cy="869" r="5"/></g><g id="n474"><circle cx="547" cy="877" r="5"/></g><g id="n475"><circle cx="554" cy="876" r="5"/></g><g id="n476"><circle cx="591" cy="950" r="5"/></g><g id="n477"><circle cx="626" cy="946" r="5"/></g><g id="n478"><circle cx="503" cy="953" r="5"/></g><g id="n479"><circle cx="514" cy="959" r="5"/></g><g id="n480"><circle cx="517" cy="982" r="5"/></g>
<g id="n481"><circle cx="517" cy="989" r="5"/></g><g id="n482"><circle cx="634" cy="972" r="5"/></g><g id="n483"><circle cx="630" cy="977" r="5"/></g><g id="n484"><circle cx="657" cy="965" r="5"/></g><g id="n485"><circle cx="654" cy="991" r="5"/></g><g id="n486"><circle cx="698" cy="974" r="5"/></g><g id="n487"><circle cx="735" cy="980" r="5"/></g><g id="n488"><circle cx="748" cy="969" r="5"/></g><g id="n489"><circle cx="744" cy="997" r="5"/></g><g id="n490"><circle cx="893" cy="994" r="5"/></g>
<g id="n491"><circle cx="538" cy="1024" r="5"/></g><g id="n492"><circle cx="579" cy="1023" r="5"/></g><g id="n493"><circle cx="652" cy="1018" r="5"/></g><g id="n494"><circle cx="660" cy="1015" r="5"/></g><g id="n495"><circle cx="696" cy="1032" r="5"/></g><g id="n496"><circle cx="673" cy="1044" r="5"/></g><g id="n497"><circle cx="672" cy="1055" r="5"/></g><g id="n498"><circle cx="547" cy="1051" r="5"/></g><g id="n499"><circle cx="574" cy="1052" r="5"/></g><g id="n500"><circle cx="655" cy="1051" r="5"/></g>
<g id="n501"><circle cx="772" cy="1025" r="5"/></g><g id="n502"><circle cx="814" cy="1023" r="5"/></g><g id="n503"><circle cx="821" cy="1036" r="5"/></g><g id="n504"><circle cx="819" cy="1043" r="5"/></g><g id="n505"><circle cx="766" cy="1060" r="5"/></g><g id="n506"><circle cx="788" cy="1057" r="5"/></g><g id="n507"><circle cx="907" cy="1029" r="5"/></g><g id="n508"><circle cx="961" cy="1052" r="5"/></g><g id="n509"><circle cx="973" cy="1031" r="5"/></g><g id="n510"><circle cx="994" cy="729" r="5"/></g>
<g id="n511"><circle cx="1023" cy="722" r="5"/></g><g id="n512"><circle cx="1037" cy="732" r="5"/></g><g id="n513"><circle cx="1034" cy="744" r="5"/></g><g id="n514"><circle cx="1146" cy="720" r="5"/></g><g id="n515"><circle cx="1191" cy="737" r="5"/></g><g id="n516"><circle cx="1234" cy="724" r="5"/></g><g id="n517"><circle cx="1272" cy="719" r="5"/></g><g id="n518"><circle cx="1279" cy="742" r="5"/></g><g id="n519"><circle cx="1235" cy="761" r="5"/></g><g id="n520"><circle cx="1136" cy="754" r="5"/></g>
<g id="n521"><circle cx="1113" cy="763" r="5"/></g><g id="n522"><circle cx="1112" cy="773" r="5"/></g><g id="n523"><circle cx="1003" cy="770" r="5"/></g><g id="n524"><circle cx="1055" cy="784" r="5"/></g><g id="n525"><circle cx="1075" cy="785" r="5"/></g><g id="n526"><circle cx="1058" cy="795" r="5"/></g><g id="n527"><circle cx="995" cy="822" r="5"/></g><g id="n528"><circle cx="993" cy="843" r="5"/></g><g id="n529"><circle cx="1043" cy="855" r="5"/></g><g id="n530"><circle cx="1056" cy="870" r="5"/></g>
<g id="n531"><circle cx="1052" cy="883" r="5"/></g><g id="n532"><circle cx="1001" cy="891" r="5"/></g><g id="n533"><circle cx="1109" cy="810" r="5"/></g><g id="n534"><circle cx="1177" cy="806" r="5"/></g><g id="n535"><circle cx="1196" cy="792" r="5"/></g><g id="n536"><circle cx="1202" cy="794" r="5"/></g><g id="n537"><circle cx="1210" cy="778" r="5"/></g><g id="n538"><circle cx="1220" cy="782" r="5"/></g><g id="n539"><circle cx="1246" cy="778" r="5"/></g><g id="n540"><circle cx="1253" cy="796" r="5"/></g>
<g id="n541"><circle cx="1298" cy="777" r="5"/></g><g id="n542"><circle cx="1309" cy="795" r="5"/></g><g id="n543"><circle cx="1328" cy="794" r="5"/></g><g id="n544"><circle cx="1336" cy="804" r="5"/></g><g id="n545"><circle cx="1385" cy="749" r="5"/></g><g id="n546"><circle cx="1401" cy="763" r="5"/></g><g id="n547"><circle cx="1382" cy="792" r="5"/></g><g id="n548"><circle cx="1390" cy="814" r="5"/></g><g id="n549"><circle cx="1401" cy="812" r="5"/></g><g id="n550"><circle cx="1362" cy="824" r="5"/></g>
<g id="n551"><circle cx="1414" cy="853" r="5"/></g><g id="n552"><circle cx="1280" cy="812" r="5"/></g><g id="n553"><circle cx="1256" cy="819" r="5"/></g><g id="n554"><circle cx="1255" cy="828" r="5"/></g><g id="n555"><circle cx="1224" cy="831" r="5"/></g><g id="n556"><circle cx="1272" cy="833" r="5"/></g><g id="n557"><circle cx="1161" cy="853" r="5"/></g><g id="n558"><circle cx="1216" cy="859" r="5"/></g><g id="n559"><circle cx="1317" cy="867" r="5"/></g><g id="n560"><circle cx="1286" cy="883" r="5"/></g>
<g id="n561"><circle cx="1170" cy="890" r="5"/></g><g id="n562"><circle cx="1235" cy="901" r="5"/></g><g id="n563"><circle cx="1203" cy="901" r="5"/></g><g id="n564"><circle cx="1198" cy="906" r="5"/></g><g id="n565"><circle cx="1312" cy="903" r="5"/></g><g id="n566"><circle cx="1333" cy="896" r="5"/></g><g id="n567"><circle cx="1269" cy="927" r="5"/></g><g id="n568"><circle cx="1325" cy="928" r="5"/></g><g id="n569"><circle cx="1272" cy="945" r="5"/></g><g id="n570"><circle cx="1227" cy="946" r="5"/></g>
<g id="n571"><circle cx="1088" cy="903" r="5"/></g><g id="n572"><circle cx="1131" cy="923" r="5"/></g><g id="n573"><circle cx="1131" cy="941" r="5"/></g><g id="n574"><circle cx="1140" cy="940" r="5"/></g><g id="n575"><circle cx="1140" cy="950" r="5"/></g><g id="n576"><circle cx="1126" cy="958" r="5"/></g><g id="n577"><circle cx="1033" cy="959" r="5"/></g><g id="n578"><circle cx="1082" cy="966" r="5"/></g><g id="n579"><circle cx="982" cy="957" r="5"/></g><g id="n580"><circle cx="1102" cy="1009" r="5"/></g>
<g id="n581"><circle cx="1106" cy="1024" r="5"/></g><g id="n582"><circle cx="1087" cy="1029" r="5"/></g><g id="n583"><circle cx="1073" cy="1033" r="5"/></g><g id="n584"><circle cx="1045" cy="1055" r="5"/></g><g id="n585"><circle cx="1227" cy="1018" r="5"/></g><g id="n586"><circle cx="1244" cy="998" r="5"/></g><g id="n587"><circle cx="1252" cy="1004" r="5"/></g><g id="n588"><circle cx="1257" cy="1042" r="5"/></g><g id="n589"><circle cx="1282" cy="983" r="5"/></g><g id="n590"><circle cx="1330" cy="997" r="5"/></g>
<g id="n591"><circle cx="1357" cy="1007" r="5"/></g><g id="n592"><circle cx="1373" cy="991" r="5"/></g><g id="n593"><circle cx="1409" cy="1028" r="5"/></g><g id="n594"><circle cx="1368" cy="1051" r="5"/></g>
</g>
<g id="endpoints" class="end">
<g id="start"><circle cx="47" cy="1039" r="8.5"/></g>
<g id="goal"><circle cx="1375" cy="369" r="8.5"/></g>
</g>
<g id="colorbar">
<rect x="1577" y="62" width="43" height="1304" fill="url(#jet)" stroke="#262626" stroke-width="1.3"/>
<path d="M1607 389H1620M1607 714H1620M1607 1039H1620" stroke="#262626" stroke-width="1.3"/>
<text class="tl" x="1636" y="94">10</text><text class="sup" x="1699" y="66">3</text>
<text class="tl" x="1636" y="421">10</text><text class="sup" x="1699" y="393">2</text>
<text class="tl" x="1636" y="746">10</text><text class="sup" x="1699" y="718">1</text>
<text class="tl" x="1636" y="1071">10</text><text class="sup" x="1699" y="1043">0</text>
<text class="tl" x="1636" y="1396">10</text><text class="sup" x="1699" y="1368">-1</text>
<text class="tl" transform="translate(1812,714) rotate(-90)" text-anchor="middle">time</text>
</g>
</svg>
